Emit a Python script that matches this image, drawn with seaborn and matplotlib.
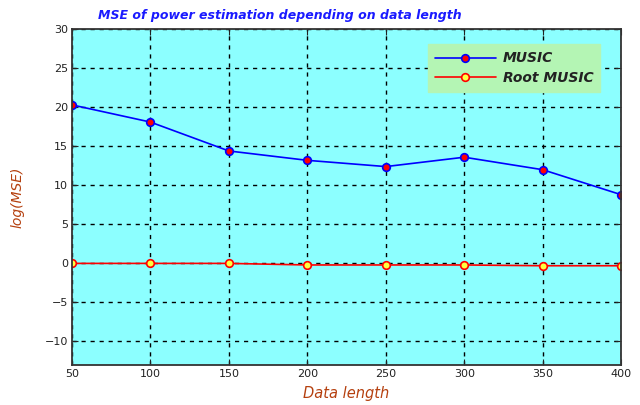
import numpy as np
import pandas as pd
import matplotlib
matplotlib.use("Agg")
import matplotlib.pyplot as plt
import seaborn as sns

# data
data_length = [50, 100, 150, 200, 250, 300, 350, 400]
music = [20.3, 18.1, 14.4, 13.2, 12.4, 13.6, 12.0, 8.8]
root_music = [0.0, 0.0, 0.0, -0.2, -0.2, -0.2, -0.3, -0.3]

x_ticks = [50, 100, 150, 200, 250, 300, 350, 400]
y_ticks = [-10, -5, 0, 5, 10, 15, 20, 25, 30]

sns.set_style("ticks")
plt.rcParams['font.family'] = ['DejaVu Sans']

fig = plt.figure(figsize=(6.4, 4.05), dpi=100)
ax = fig.add_axes([0.1125, 0.099, 0.858, 0.829])
ax.set_facecolor('#8cffff')

df = pd.DataFrame({'len': data_length, 'MUSIC': music, 'Root MUSIC': root_music})

sns.lineplot(data=df, x='len', y='MUSIC', ax=ax, color='#0000ff', lw=1.2,
             marker='o', markersize=5.5, markerfacecolor='#ff0000',
             markeredgecolor='#0000ff', markeredgewidth=1.2, label='MUSIC')
sns.lineplot(data=df, x='len', y='Root MUSIC', ax=ax, color='#ff0000', lw=1.2,
             marker='o', markersize=5.5, markerfacecolor='#ffff40',
             markeredgecolor='#ff0000', markeredgewidth=1.2, label='Root MUSIC')

ax.set_xlim(50, 400)
ax.set_ylim(-13, 30)
ax.set_xticks(x_ticks)
ax.set_yticks(y_ticks)
ax.tick_params(direction='in', top=True, right=True, labelsize=8, length=4,
               colors='#222222', pad=3)
ax.grid(True, color='black', linestyle=(0, (3, 3.5)), linewidth=1.0)
for s in ax.spines.values():
    s.set_color('#333333')
    s.set_linewidth(1.3)

fig.text(0.4375, 1 - 15 / 405, 'MSE of power estimation depending on data length',
         color='#1a1aff', fontsize=9, style='italic', fontweight='bold',
         ha='center', va='center')
ax.set_xlabel('Data length', color='#b5400f', fontsize=10.5, style='italic', labelpad=5)
ax.set_ylabel('log(MSE)', color='#b5400f', fontsize=10, style='italic', labelpad=14)

leg = ax.legend(loc='upper right', bbox_to_anchor=(0.975, 0.975), frameon=True,
                fancybox=False, fontsize=10, handlelength=4.4, borderpad=0.5,
                labelspacing=0.4, handletextpad=0.5)
leg.get_frame().set_facecolor('#b4f5b4')
leg.get_frame().set_edgecolor('#b4f5b4')
leg.get_frame().set_alpha(1)
for t in leg.get_texts():
    t.set_style('italic')
    t.set_fontweight('bold')
    t.set_color('#222222')

fig.savefig('out.png', dpi=100, facecolor='white')
